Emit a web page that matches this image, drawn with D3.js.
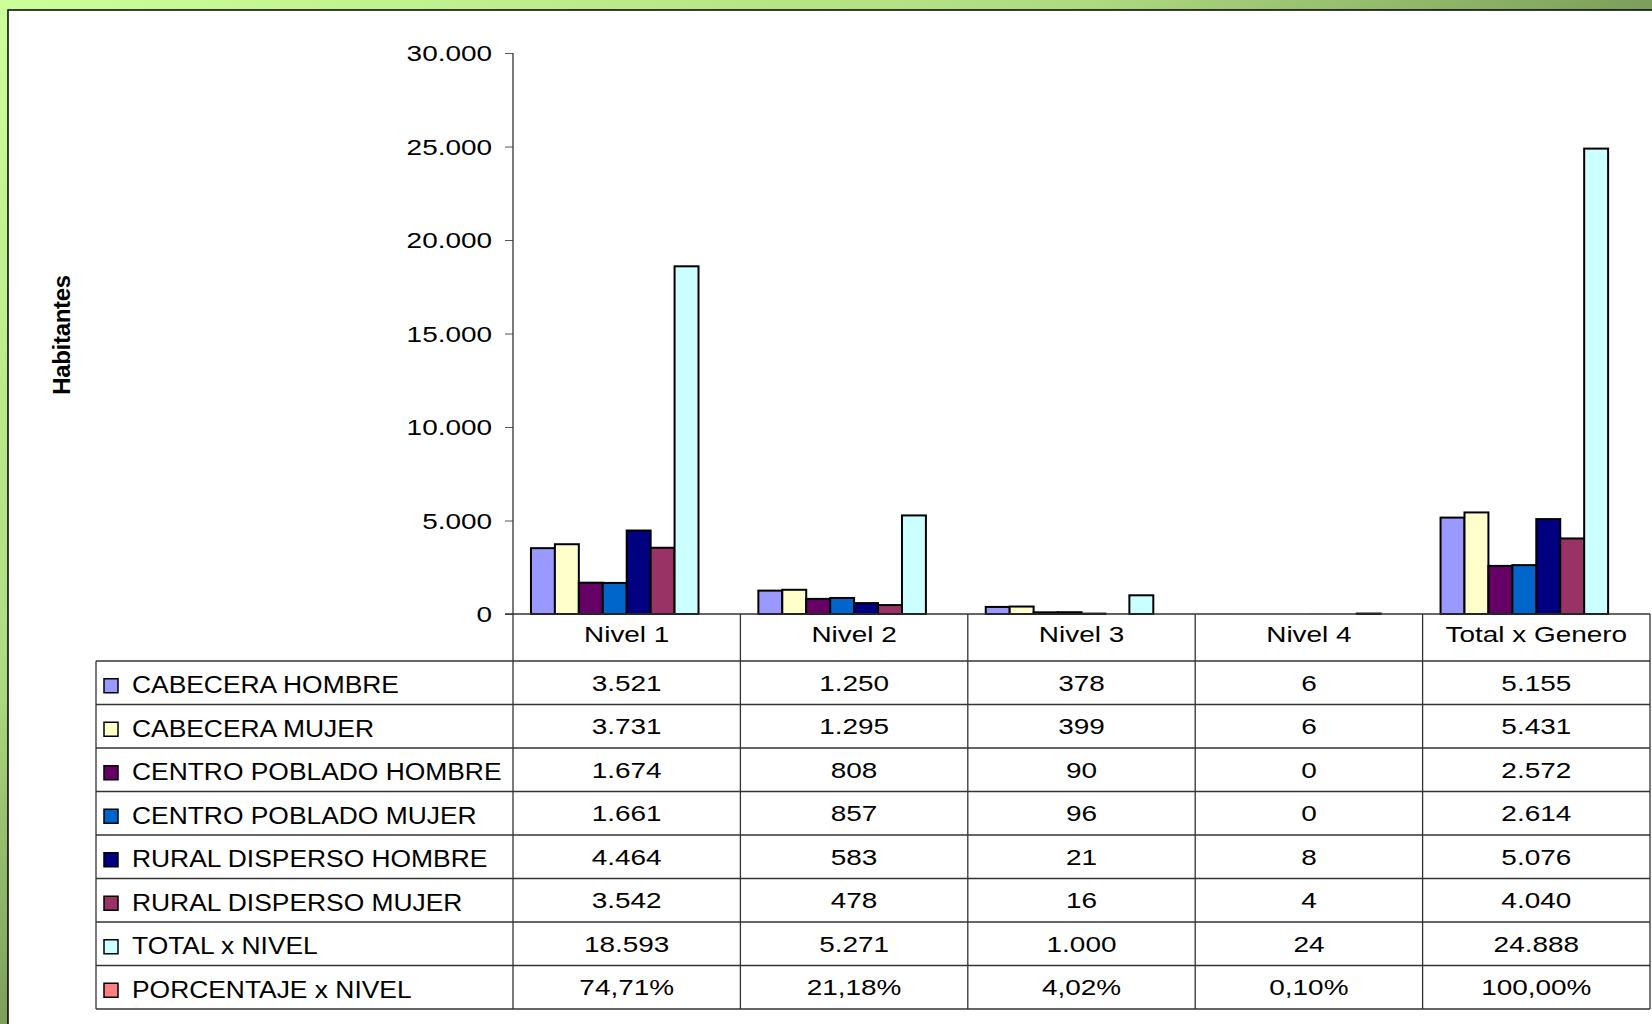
<!DOCTYPE html>
<html>
<head>
<meta charset="utf-8">
<script src="https://cdn.jsdelivr.net/npm/d3@7"></script>
<style>
  html, body { margin: 0; padding: 0; background: #fff; }
  text { font-family: "Liberation Sans", Arial, sans-serif; fill: #000; }
</style>
</head>
<body>
<svg id="chart" width="1652" height="1024"></svg>
<script>
// data
const categories = ['Nivel 1', 'Nivel 2', 'Nivel 3', 'Nivel 4', 'Total x Genero']
const seriesNames = ['CABECERA HOMBRE', 'CABECERA MUJER', 'CENTRO POBLADO HOMBRE', 'CENTRO POBLADO MUJER',
    'RURAL DISPERSO HOMBRE', 'RURAL DISPERSO MUJER', 'TOTAL x NIVEL', 'PORCENTAJE x NIVEL']
const seriesColors = ['#9999ff', '#ffffcc', '#660066', '#0066cc', '#000080', '#993366', '#ccffff', '#ff8080']
const cabeceraHombre = [3521, 1250, 378, 6, 5155]
const cabeceraMujer = [3731, 1295, 399, 6, 5431]
const centroHombre = [1674, 808, 90, 0, 2572]
const centroMujer = [1661, 857, 96, 0, 2614]
const ruralHombre = [4464, 583, 21, 8, 5076]
const ruralMujer = [3542, 478, 16, 4, 4040]
const totalNivel = [18593, 5271, 1000, 24, 24888]
const porcentajeNivel = [0.7471, 0.2118, 0.0402, 0.0010, 1.0]
const yTicks = [0, 5000, 10000, 15000, 20000, 25000, 30000]

const seriesValues = [cabeceraHombre, cabeceraMujer, centroHombre, centroMujer,
    ruralHombre, ruralMujer, totalNivel, porcentajeNivel]

const W = 1652, H = 1024
const plot = { left: 513, right: 1650, top: 53, base: 614 }
const table = { left: 96, headTop: 614, top: 661, rowH: 43.5 }
const lineColor = '#333'

const loc = d3.formatLocale({ decimal: ',', thousands: '.', grouping: [3], currency: ['$', ''] })
const fmtNum = loc.format(',d')
const fmtPct = loc.format('.2%')

const svg = d3.select('#chart')

// background: green frame + white panel
const defs = svg.append('defs')
const grad = defs.append('linearGradient').attr('id', 'bg')
    .attr('x1', 0).attr('y1', 0).attr('x2', 1).attr('y2', 1)
grad.append('stop').attr('offset', 0).attr('stop-color', '#ccff99')
grad.append('stop').attr('offset', 0.33).attr('stop-color', '#aedb80')
grad.append('stop').attr('offset', 0.5).attr('stop-color', '#7c9f5b')
grad.append('stop').attr('offset', 1).attr('stop-color', '#587a3b')
svg.append('rect').attr('width', W).attr('height', H).attr('fill', 'url(#bg)')
svg.append('rect').attr('x', 8).attr('y', 10).attr('width', W - 8).attr('height', H - 10).attr('fill', '#fff')
svg.append('path').attr('d', `M8,${H}V10H${W}`).attr('fill', 'none').attr('stroke', '#000').attr('stroke-width', 1.5)

// wide text like the original rendering
function wideText(parent, x, y, str, opts) {
    opts = opts || {}
    const g = parent.append('g')
        .attr('transform', `translate(${x},${y}) scale(${opts.sx || 1.27},1)`)
    return g.append('text')
        .attr('text-anchor', opts.anchor || 'middle')
        .attr('dominant-baseline', 'central')
        .style('font-size', (opts.size || 22) + 'px')
        .text(str)
}

const y = d3.scaleLinear().domain([0, 30000]).range([plot.base, plot.top])
const x0 = d3.scaleBand().domain(categories).range([plot.left, plot.right])
const x1 = d3.scaleBand().domain(seriesNames).range([0, x0.bandwidth()]).paddingOuter(0.75)

// y axis
const yAxis = svg.append('g').attr('transform', `translate(${plot.left},0)`)
    .call(d3.axisLeft(y).tickValues(yTicks).tickSize(8).tickSizeOuter(0).tickFormat(loc.format(',d')))
yAxis.select('.domain').remove()
yAxis.selectAll('.tick line').attr('stroke', '#555')
yAxis.selectAll('.tick text')
    .attr('x', 0).attr('dy', null)
    .attr('dominant-baseline', 'central')
    .attr('transform', 'translate(-21,0) scale(1.27,1)')
    .style('font-size', '22px')
    .style('font-family', '"Liberation Sans", Arial, sans-serif')
    .attr('fill', '#000')

svg.append('text')
    .attr('transform', 'translate(61,335) rotate(-90)')
    .attr('text-anchor', 'middle')
    .attr('dominant-baseline', 'central')
    .style('font-size', '24px').style('font-weight', 'bold')
    .style('letter-spacing', '-0.3px')
    .text('Habitantes')

// bars
const groups = svg.append('g').selectAll('g')
    .data(categories)
    .join('g')
    .attr('transform', d => `translate(${x0(d)},0)`)
groups.selectAll('rect')
    .data((c, ci) => seriesNames.map((s, si) => ({ s, si, v: seriesValues[si][ci] })))
    .join('rect')
    .attr('x', d => x1(d.s))
    .attr('width', x1.bandwidth())
    .attr('y', d => y(d.v))
    .attr('height', d => plot.base - y(d.v))
    .attr('fill', d => seriesColors[d.si])
    // sub-pixel bars don't show an outline in the original
    .attr('stroke', d => plot.base - y(d.v) < 0.3 ? 'none' : '#000')
    .attr('stroke-width', 2)

// data table
const bottom = table.top + table.rowH * seriesNames.length
const grid = svg.append('g').attr('stroke', lineColor).attr('stroke-width', 1.3).attr('fill', 'none')
grid.append('line').attr('x1', plot.left - 8).attr('x2', plot.right).attr('y1', plot.base).attr('y2', plot.base)
grid.append('line').attr('x1', plot.left).attr('x2', plot.left).attr('y1', plot.top).attr('y2', bottom)
grid.append('line').attr('x1', table.left).attr('x2', table.left).attr('y1', table.top).attr('y2', bottom)
grid.selectAll('.vl').data(categories)
    .join('line').attr('class', 'vl')
    .attr('x1', d => x0(d) + x0.bandwidth()).attr('x2', d => x0(d) + x0.bandwidth())
    .attr('y1', plot.base).attr('y2', bottom)
grid.selectAll('.hl').data(d3.range(seriesNames.length + 1))
    .join('line').attr('class', 'hl')
    .attr('x1', table.left).attr('x2', plot.right)
    .attr('y1', i => table.top + i * table.rowH).attr('y2', i => table.top + i * table.rowH)

const tg = svg.append('g')
categories.forEach(c => {
    wideText(tg, x0(c) + x0.bandwidth() / 2, (table.headTop + table.top) / 2 - 3, c)
})
seriesNames.forEach((s, si) => {
    const cy = table.top + table.rowH * (si + 0.5)
    tg.append('rect')
        .attr('x', 104).attr('y', cy - 4).attr('width', 14).attr('height', 14)
        .attr('fill', seriesColors[si]).attr('stroke', '#000').attr('stroke-width', 1.5)
    wideText(tg, 132, cy + 2, s, { anchor: 'start', size: 24, sx: 1.1 })
    categories.forEach((c, ci) => {
        const v = seriesValues[si][ci]
        const str = s === 'PORCENTAJE x NIVEL' ? fmtPct(v) : fmtNum(v)
        wideText(tg, x0(c) + x0.bandwidth() / 2, cy, str)
    })
})
</script>
</body>
</html>
